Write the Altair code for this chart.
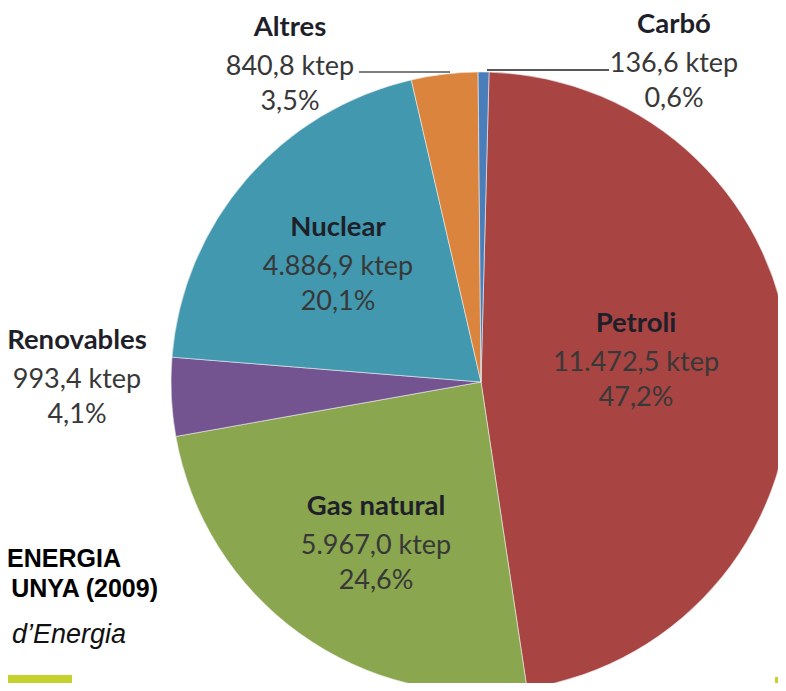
import math
import altair as alt
import pandas as pd

# ---- data ----
categories = ["Petroli", "Gas natural", "Renovables", "Nuclear", "Altres", "Carbó"]
values_ktep = [11472.5, 5967.0, 993.4, 4886.9, 840.8, 136.6]
colors = ["#A84442", "#8AA64E", "#735491", "#4198AF", "#DB843D", "#4A7EBB"]

title_lines = ["ENERGIA", "UNYA (2009)"]
source_line = ["d\u2019Energia"]

# ---- layout (label placement as in the source chart, in px) ----
label_x = [628, 368, 69, 330, 282, 666]
label_y = [355, 538, 372, 259, 59, 56]
title_x = [113, 150]
title_y = [559, 589]
source_x = [118]
source_y = [635]

W, H = 770, 675
CX, CY, R = 473, 374, 310
OFF = 0.026  # slight rotation of the pie start


def fmt_num(v):
    s = f"{v:,.1f}"
    return s.replace(",", "X").replace(".", ",").replace("X", ".")


total = sum(values_ktep)
df = pd.DataFrame({
    "cat": categories,
    "value": values_ktep,
    "order": list(range(len(categories))),
    "vlabel": [fmt_num(v) + " ktep" for v in values_ktep],
    "plabel": [f"{100 * v / total:.1f}".replace(".", ",") + "%" for v in values_ktep],
    "lx": label_x,
    "ly": label_y,
})

pie = alt.Chart(df).mark_arc(radius=R, stroke="#eeeeee", strokeWidth=0.6).encode(
    theta=alt.Theta("value:Q", stack=True,
                    scale=alt.Scale(range=[OFF, OFF + 2 * math.pi])),
    color=alt.Color("cat:N", scale=alt.Scale(domain=categories, range=colors), legend=None),
    order=alt.Order("order:Q", sort="ascending"),
    x=alt.value(CX),
    y=alt.value(CY),
)

one = pd.DataFrame({"a": [0]})
rule_altres = alt.Chart(one).mark_rule(color="#555555", strokeWidth=1.5).encode(
    x=alt.value(351), x2=alt.value(442), y=alt.value(64))
rule_carbo = alt.Chart(one).mark_rule(color="#222222", strokeWidth=1.5).encode(
    x=alt.value(479), x2=alt.value(601), y=alt.value(62))

base = alt.Chart(df).encode(
    x=alt.X("lx:Q", scale=None, axis=None),
    y=alt.Y("ly:Q", scale=None, axis=None),
)
names = base.mark_text(font="Lato", fontWeight="bold", fontSize=27.5, dy=-39,
                       color="#1f1f2a").encode(text="cat:N")
vals = base.mark_text(font="Lato", fontSize=27, color="#383838").encode(text="vlabel:N")
pcts = base.mark_text(font="Lato", fontSize=27, dy=35, color="#383838").encode(text="plabel:N")

tdf = pd.DataFrame({"t": title_lines, "x": title_x, "y": title_y})
titles = alt.Chart(tdf).mark_text(font="Liberation Sans", fontWeight="bold", fontSize=25,
                                  align="right", baseline="alphabetic", color="#000000").encode(
    x=alt.X("x:Q", scale=None, axis=None), y=alt.Y("y:Q", scale=None, axis=None), text="t:N")

sdf = pd.DataFrame({"t": source_line, "x": source_x, "y": source_y})
source = alt.Chart(sdf).mark_text(font="Liberation Sans", fontStyle="italic", fontSize=27,
                                  align="right", baseline="alphabetic", color="#111111").encode(
    x=alt.X("x:Q", scale=None, axis=None), y=alt.Y("y:Q", scale=None, axis=None), text="t:N")

bar_left = alt.Chart(one).mark_rect(color="#C5D22E").encode(
    x=alt.value(0), x2=alt.value(64), y=alt.value(667), y2=alt.value(683))
bar_right = alt.Chart(one).mark_rect(color="#C5D22E").encode(
    x=alt.value(767), x2=alt.value(770), y=alt.value(669), y2=alt.value(683))

chart = alt.layer(
    pie, rule_altres, rule_carbo, names, vals, pcts, titles, source, bar_left, bar_right
).properties(
    width=W, height=H, autosize="none", padding=0, background="#ffffff"
).configure_view(stroke=None)

chart.save("out.html", embed_options={"renderer": "svg", "actions": False})
